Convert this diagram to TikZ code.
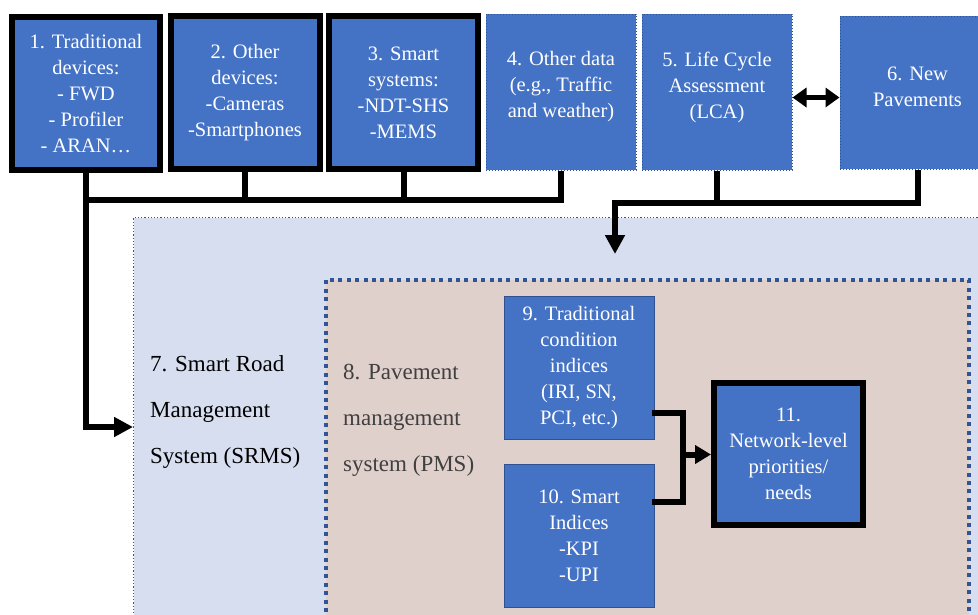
\documentclass[tikz,border=0pt]{standalone}
\usepackage{fontspec}
\setmainfont{Liberation Serif}
\newfontfamily\tnr{Liberation Serif}
\usetikzlibrary{arrows.meta}
\definecolor{boxblue}{HTML}{4472C4}
\definecolor{edgeblue}{HTML}{2F528F}
\definecolor{srmsfill}{HTML}{D6DEF0}
\definecolor{pmsfill}{HTML}{E0D0CC}
\definecolor{dotblue}{HTML}{2F5597}
\definecolor{pmstext}{HTML}{404040}
\tikzset{
  boxtxt/.style={text=white, align=center, font=\tnr\fontsize{20.5}{26}\selectfont},
  thickbox/.style={boxtxt, fill=boxblue, draw=black, line width=6pt, inner sep=0pt},
  dotbox/.style={fill=boxblue, draw=edgeblue, dotted, line width=1pt, inner sep=0pt},
  thinbox/.style={boxtxt, fill=boxblue, draw=edgeblue, line width=1pt, inner sep=0pt},
  conn/.style={draw=black, line width=6pt},
  bigtext/.style={align=left, font=\tnr\fontsize{23}{46}\selectfont, inner sep=0pt, anchor=west},
  tip/.style={-{Triangle[length=19pt,width=19pt]}},
}
\begin{document}
\begin{tikzpicture}[x=1pt,y=-1pt]
\useasboundingbox (0,0) rectangle (978,614);
\clip (0,0) rectangle (978,614);
% containers
\node[fill=srmsfill, draw=dotblue, dotted, line width=1.2pt, minimum width=860pt, minimum height=420pt, inner sep=0pt, anchor=north west] (srms) at (133,217) {};
\node[fill=pmsfill, draw=dotblue, line width=4pt, dash pattern=on 4pt off 4.4pt, minimum width=643pt, minimum height=360pt, inner sep=0pt, anchor=north west] (pms) at (324,278) {};
\node[bigtext] (t7) at (150,412) {7. Smart Road\\Management\\System (SRMS)};
\node[bigtext, text=pmstext] (t8) at (343,420) {8. Pavement\\management\\system (PMS)};
% top boxes
\node[thickbox, minimum width=148pt, minimum height=153pt] (b1) at (86,93.5) {1. Traditional\\devices:\\- FWD\\- Profiler\\- ARAN…};
\node[thickbox, minimum width=149pt, minimum height=153pt] (b2) at (245,92.5) {2. Other\\devices:\\-Cameras\\-Smartphones};
\node[thickbox, minimum width=149pt, minimum height=153pt] (b3) at (403.5,92.5) {3. Smart\\systems:\\-NDT-SHS\\-MEMS};
\node[dotbox, minimum width=150pt, minimum height=156pt, label={[boxtxt, yshift=5pt]center:{4. Other data\\(e.g., Traffic\\and weather)}}] (b4) at (561,92) {};
\node[dotbox, minimum width=150pt, minimum height=156pt, label={[boxtxt, yshift=5pt]center:{5. Life Cycle\\Assessment\\(LCA)}}] (b5) at (717,92) {};
\node[dotbox, minimum width=155pt, minimum height=153pt, label={[boxtxt, yshift=6pt]center:{6. New\\Pavements}}] (b6) at (917.5,92.5) {};
% inner boxes
\node[thinbox, minimum width=150pt, minimum height=143pt] (b9) at (579,367.5) {9. Traditional\\condition\\indices\\(IRI, SN,\\PCI, etc.)};
\node[thinbox, minimum width=150pt, minimum height=143pt] (b10) at (579,535.5) {10. Smart\\Indices\\-KPI\\-UPI};
\node[thickbox, minimum width=149pt, minimum height=142pt] (b11) at (788.5,454) {11.\\Network-level\\priorities/\\needs};
% connectors group 1
\coordinate (j1) at (86,200);
\coordinate (j4) at (561,200);
\coordinate (jd) at (86,427);
\draw[conn] (b1.south) -- (j1);
\draw[conn] (b2.south) -- (b2.south |- j1);
\draw[conn] (b3.south) -- (b3.south |- j1);
\draw[conn] (b4.south) -- (j4);
\draw[conn, line cap=rect] (j1) -- (j4);
\draw[conn, tip] (j1) -- (jd) -- (srms.west |- jd);
% connectors group 2
\coordinate (k1) at (615,203);
\draw[conn] (b5.south) -- (b5.south |- k1);
\draw[conn] (b6.south) -- (b6.south |- k1) -- (k1);
\draw[conn, tip, line cap=rect] (k1) -- (615,254);
% double arrow
\draw[line width=5pt, {Triangle[length=14pt,width=19pt]}-{Triangle[length=14pt,width=19pt]}] (b5.east |- 0,97.5) -- (b6.west |- 0,97.5);
% connectors group 3
\coordinate (m1) at (683,412.5);
\coordinate (m2) at (683,501.5);
\coordinate (m3) at (683,454.5);
\draw[conn, line cap=rect] (b9.east |- m1) -- (m1) -- (m2) -- (b10.east |- m2);
\draw[conn, -{Triangle[length=16pt,width=18pt]}] (m3) -- (b11.west |- m3);
\end{tikzpicture}
\end{document}
